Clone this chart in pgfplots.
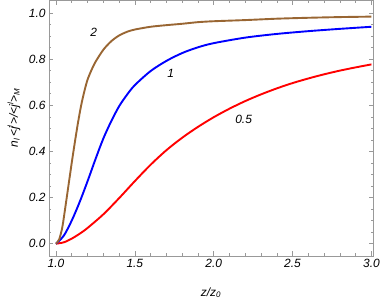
\documentclass[border=0pt]{standalone}
\usepackage{fontspec}
\setmainfont{Liberation Sans}
\usepackage{pgfplots}
\pgfplotsset{compat=1.18}
\definecolor{mbrown}{rgb}{0.6,0.4,0.2}
\definecolor{framegray}{gray}{0.6}
\begin{document}
\begin{tikzpicture}
\begin{axis}[
  scale only axis, width=324bp, height=255bp,
  xmin=0.956, xmax=3.01, ymin=-0.052, ymax=1.053,
  xtick={1,1.5,2,2.5,3}, ytick={0,0.2,0.4,0.6,0.8,1},
  minor x tick num=4, minor y tick num=3,
  tick align=inside, major tick length=4.5bp, minor tick length=2.5bp,
  axis line style={framegray},
  every tick/.style={framegray, line width=0.5pt},
  tick label style={font=\fontsize{12}{14}\selectfont\itshape},
  /pgf/number format/assume math mode=true,
  /pgf/number format/.cd, fixed, fixed zerofill, precision=1, /pgfplots/.cd,
  label style={font=\fontsize{12}{14}\selectfont\itshape},
  xlabel={z/z\textsubscript{0}},
  ylabel={n\textsubscript{l}\,<j\textsuperscript{l}>/<j\textsuperscript{l}>\textsubscript{M}},
  xlabel style={at={(axis description cs:0.5,-0.145)}, anchor=center},
  ylabel style={at={(axis description cs:-0.108,0.54)}, anchor=center},
  every axis plot/.style={line width=1.9bp, smooth, tension=0.5},
]
\addplot[red] coordinates {
(1,0) (1.05,0.006) (1.1,0.022) (1.15,0.043) (1.2,0.068) (1.3,0.127) (1.4,0.197)
(1.5,0.271) (1.6,0.342) (1.7,0.405) (1.8,0.459) (1.9,0.506) (2.0,0.548) (2.1,0.585)
(2.2,0.618) (2.3,0.647) (2.4,0.673) (2.5,0.696) (2.6,0.716) (2.7,0.734) (2.8,0.75)
(2.9,0.764) (3.0,0.777)};
\addplot[blue] coordinates {
(1,0) (1.05,0.035) (1.1,0.1) (1.15,0.18) (1.2,0.27) (1.25,0.365) (1.3,0.455)
(1.35,0.53) (1.4,0.595) (1.45,0.645) (1.5,0.687) (1.6,0.748) (1.7,0.792) (1.8,0.826)
(1.9,0.851) (2.0,0.869) (2.2,0.893) (2.4,0.909) (2.6,0.921) (2.8,0.931) (3.0,0.94)};
\addplot[mbrown] coordinates {
(1,0) (1.02,0.018) (1.04,0.07) (1.06,0.16) (1.08,0.255) (1.1,0.35) (1.12,0.44)
(1.14,0.525) (1.16,0.6) (1.18,0.66) (1.2,0.71) (1.225,0.752) (1.25,0.787) (1.3,0.84)
(1.35,0.877) (1.4,0.902) (1.45,0.918) (1.5,0.928) (1.6,0.94) (1.7,0.947) (1.8,0.953)
(1.9,0.96) (2.0,0.964) (2.2,0.969) (2.4,0.975) (2.6,0.979) (2.8,0.982) (3.0,0.984)};
\node[font=\fontsize{12}{14}\selectfont\itshape] at (axis cs:1.24,0.914) {2};
\node[font=\fontsize{12}{14}\selectfont\itshape] at (axis cs:1.727,0.74) {1};
\node[font=\fontsize{12}{14}\selectfont\itshape] at (axis cs:2.19,0.537) {0.5};
\end{axis}
\pgfresetboundingbox
\path (current axis.south west) ++(-49bp,-44.3bp) rectangle ++(382bp,300bp);
\end{tikzpicture}
\end{document}
